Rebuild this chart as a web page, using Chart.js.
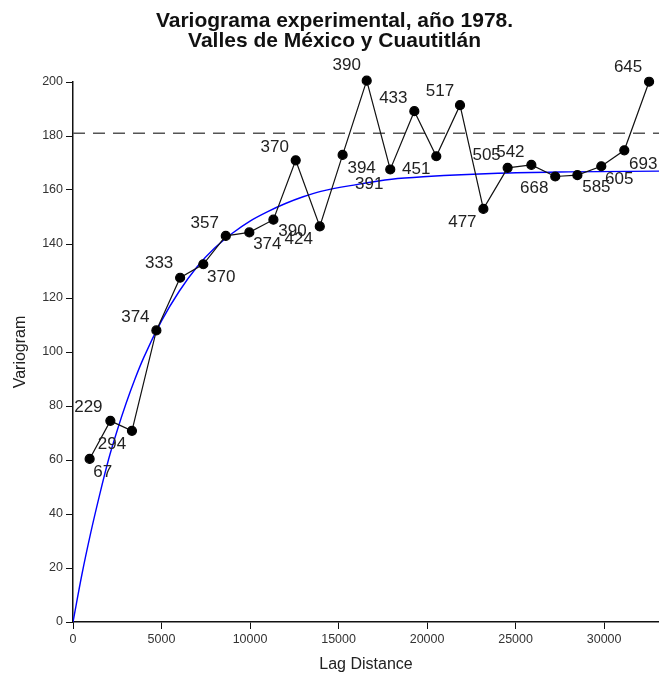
<!doctype html>
<html>
<head>
  <meta charset="utf-8">
  <script src="https://cdn.jsdelivr.net/npm/chart.js@4/dist/chart.umd.min.js"></script>
  <style>
    body { margin: 0; background: #fff; }
    #wrap { width: 659px; height: 675px; }
  </style>
</head>
<body>
  <div id="wrap">
    <canvas id="c" width="659" height="675"></canvas>
  </div>
  <script>
    // experimental variogram: lag, gamma, number of pairs
    const lags = [940, 2110, 3330, 4710, 6050, 7360, 8630, 9960, 11320, 12580, 13940, 15230, 16590,
                  17920, 19280, 20520, 21860, 23180, 24550, 25890, 27240, 28490, 29840, 31140, 32540];
    const gammas = [60.4, 74.5, 70.8, 108, 127.5, 132.5, 143, 144.3, 149, 171, 146.5, 173, 200.5,
                    167.6, 189.2, 172.5, 191.4, 153, 168.2, 169.3, 165, 165.5, 168.8, 174.7, 200.1];
    const pairs = [67, 229, 294, 374, 333, 370, 357, 374, 390, 370, 424, 394, 390,
                   391, 433, 451, 517, 477, 505, 542, 668, 585, 605, 693, 645];

    // fitted model (blue)
    const modelLags = [0, 500, 1000, 1500, 2000, 2500, 3000, 3500, 4000, 5000, 6000, 7000, 8000,
                       9000, 10000, 11000, 12000, 13000, 14000, 16000, 18000, 20000, 24000, 28000, 33100];
    const modelGammas = [0, 17.5, 33, 47, 60, 71, 81, 90, 98, 111.5, 122.5, 131.5, 138.5,
                         144, 148.5, 152, 155, 157.5, 159.5, 162, 164, 165, 166.2, 166.7, 167];

    const sill = 181;
    const xTicks = [0, 5000, 10000, 15000, 20000, 25000, 30000];
    const yTicks = [0, 20, 40, 60, 80, 100, 120, 140, 160, 180, 200];
    const titleLines = ['Variograma experimental, año 1978.', 'Valles de México y Cuautitlán'];

    // label offsets from each point (px)
    const labelOffsets = [[13, 13], [-22, -14], [-20, 13], [-21, -13], [-21, -14], [18, 13], [-21, -13],
                          [18, 12], [19, 12], [-21, -13], [-21, 13], [19, 13], [-20, -15], [-21, 15],
                          [-21, -13], [-20, 13], [-20, -14], [-21, 13], [-21, -13], [-21, -13], [-21, 12],
                          [19, 12], [18, 13], [19, 14], [-21, -14]];

    const FONT = 'Liberation Sans, Arial, sans-serif';

    const pointLabels = {
      id: 'pointLabels',
      afterDatasetsDraw(chart) {
        const ctx = chart.ctx;
        const meta = chart.getDatasetMeta(0);
        ctx.save();
        ctx.font = '17px ' + FONT;
        ctx.fillStyle = '#222';
        ctx.textAlign = 'center';
        ctx.textBaseline = 'middle';
        meta.data.forEach((pt, i) => {
          const o = labelOffsets[i];
          ctx.fillText(String(pairs[i]), pt.x + o[0], pt.y + o[1]);
        });
        ctx.restore();
      }
    };

    const topTitle = {
      id: 'topTitle',
      afterDraw(chart) {
        const ctx = chart.ctx;
        const cx = chart.width / 2 + 5;
        ctx.save();
        ctx.font = 'bold 21px ' + FONT;
        ctx.fillStyle = '#111';
        ctx.textAlign = 'center';
        ctx.textBaseline = 'alphabetic';
        ctx.fillText(titleLines[0], cx, 27);
        ctx.fillText(titleLines[1], cx, 47);
        ctx.restore();
      }
    };

    const tickFont = { family: FONT, size: 12.5 };

    new Chart(document.getElementById('c').getContext('2d'), {
      type: 'scatter',
      data: {
        datasets: [
          {
            data: lags.map((x, i) => ({ x: x, y: gammas[i] })),
            showLine: true,
            borderColor: '#111',
            borderWidth: 1.2,
            pointRadius: 4.5,
            pointBackgroundColor: '#000',
            pointBorderColor: '#000',
            clip: false,
            order: 0
          },
          {
            data: modelLags.map((x, i) => ({ x: x, y: modelGammas[i] })),
            showLine: true,
            borderColor: '#0000ff',
            borderWidth: 1.4,
            pointRadius: 0,
            cubicInterpolationMode: 'monotone',
            order: 1
          },
          {
            data: [{ x: 0, y: sill }, { x: 33100, y: sill }],
            showLine: true,
            borderColor: '#555',
            borderWidth: 1.5,
            borderDash: [12, 8],
            pointRadius: 0,
            order: 2
          }
        ]
      },
      options: {
        responsive: false,
        animation: false,
        devicePixelRatio: 1,
        layout: { autoPadding: false, padding: { top: 82, right: 0, left: 0, bottom: 0 } },
        plugins: {
          legend: { display: false },
          tooltip: { enabled: false }
        },
        scales: {
          x: {
            type: 'linear',
            min: 0,
            max: 33100,
            afterBuildTicks: (s) => { s.ticks = xTicks.map(v => ({ value: v })); },
            afterFit: (s) => { s.height = 53; },
            grid: { display: true, drawOnChartArea: false, drawTicks: true, tickLength: 7, color: '#111' },
            border: { display: true, color: '#111', width: 1.5 },
            ticks: { font: tickFont, color: '#333', padding: 3, maxRotation: 0, callback: (v) => String(v) },
            title: { display: true, text: 'Lag Distance', font: { family: FONT, size: 16 }, color: '#222', padding: { top: 0, bottom: 1 } }
          },
          y: {
            type: 'linear',
            min: 0,
            max: 200,
            afterBuildTicks: (s) => { s.ticks = yTicks.map(v => ({ value: v })); },
            afterFit: (s) => { s.width = 73; },
            grid: { display: true, drawOnChartArea: false, drawTicks: true, tickLength: 7, color: '#111' },
            border: { display: true, color: '#111', width: 1.5 },
            ticks: { font: tickFont, color: '#333', padding: 3 },
            title: { display: true, text: 'Variogram', font: { family: FONT, size: 16 }, color: '#222', padding: { top: 11, bottom: 0 } }
          }
        }
      },
      plugins: [pointLabels, topTitle]
    });
  </script>
</body>
</html>
